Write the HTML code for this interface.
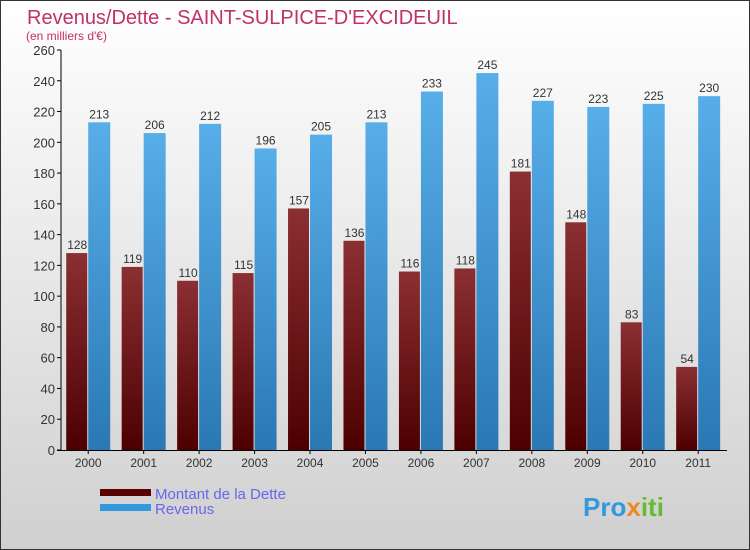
<!DOCTYPE html>
<html><head><meta charset="utf-8"><style>
body{margin:0}
#c{position:relative;width:750px;height:550px;box-sizing:border-box;border:1px solid #333;background:linear-gradient(#ffffff,#d0d0d0);font-family:"Liberation Sans",sans-serif;overflow:hidden}
</style></head><body>
<div id="c">
<svg width="750" height="550" style="position:absolute;left:-1px;top:-1px">
<defs>
<linearGradient id="gr" x1="0" y1="0" x2="0" y2="1"><stop offset="0" stop-color="#8b2f33"/><stop offset="1" stop-color="#4d0000"/></linearGradient>
<linearGradient id="gb" x1="0" y1="0" x2="0" y2="1"><stop offset="0" stop-color="#58aee8"/><stop offset="1" stop-color="#2a78b4"/></linearGradient>
</defs>
<text x="27" y="24" font-size="20" fill="#c0306a">Revenus/Dette - SAINT-SULPICE-D'EXCIDEUIL</text>
<text x="26" y="40" font-size="12" fill="#c0306a">(en milliers d'€)</text>
<g id="plot"></g>
<rect x="100" y="489" width="51" height="7" fill="#5a0000"/>
<text x="155" y="499" font-size="15" fill="#6666ee">Montant de la Dette</text>
<rect x="100" y="504" width="51" height="7" fill="#3399dd"/>
<text x="155" y="514" font-size="15" fill="#6666ee">Revenus</text>
<text x="583" y="516" font-size="26" font-weight="bold" fill="#3399dd">Pro<tspan fill="#ee8822">x</tspan><tspan fill="#66bb33">iti</tspan></text>
</svg>
</div>
<script>
const years=["2000","2001","2002","2003","2004","2005","2006","2007","2008","2009","2010","2011"];
const dette=[128,119,110,115,157,136,116,118,181,148,83,54];
const revenus=[213,206,212,196,205,213,233,245,227,223,225,230];
const ticks=[0,20,40,60,80,100,120,140,160,180,200,220,240,260];
const NS="http://www.w3.org/2000/svg";
const g=document.getElementById("plot");
const x0=60.5,band=55.45,y0=450,yMax=260,yTop=50;
const y=v=>y0-(v/yMax)*(y0-yTop);
const xc=i=>x0+band*i+band/2;
function mk(t,a){const e=document.createElementNS(NS,t);for(const k in a)e.setAttribute(k,a[k]);g.appendChild(e);return e;}
ticks.forEach(t=>{
 const l=mk("line",{x1:57,x2:61,y1:y(t),y2:y(t),stroke:"#000"});
 
 
 const tx=mk("text",{x:55,y:y(t)+5,"font-size":13,fill:"#333","text-anchor":"end"});tx.textContent=t;
 
 
});
years.forEach((yr,i)=>{
 const c=xc(i);
 const r=mk("rect",{x:c-22,y:y(dette[i]),width:21,height:y0-y(dette[i]),fill:"url(#gr)"});
 
 
 const b=mk("rect",{x:c,y:y(revenus[i]),width:22,height:y0-y(revenus[i]),fill:"url(#gb)"});
 
 
 const t1=mk("text",{x:c-11,y:y(dette[i])-4,"font-size":12,fill:"#333","text-anchor":"middle"});t1.textContent=dette[i];
 
 
 const t2=mk("text",{x:c+11,y:y(revenus[i])-4,"font-size":12,fill:"#333","text-anchor":"middle"});t2.textContent=revenus[i];
 
 
 const tk=mk("line",{x1:c,x2:c,y1:450,y2:454,stroke:"#000"});
 
 
 const xl=mk("text",{x:c,y:467,"font-size":12,fill:"#333","text-anchor":"middle"});xl.textContent=yr;
 
 
});
const ya=mk("line",{x1:61,x2:61,y1:50,y2:451,stroke:"#000"});


const xa=mk("line",{x1:57,x2:727,y1:450.5,y2:450.5,stroke:"#000"});


</script>
</body></html>
